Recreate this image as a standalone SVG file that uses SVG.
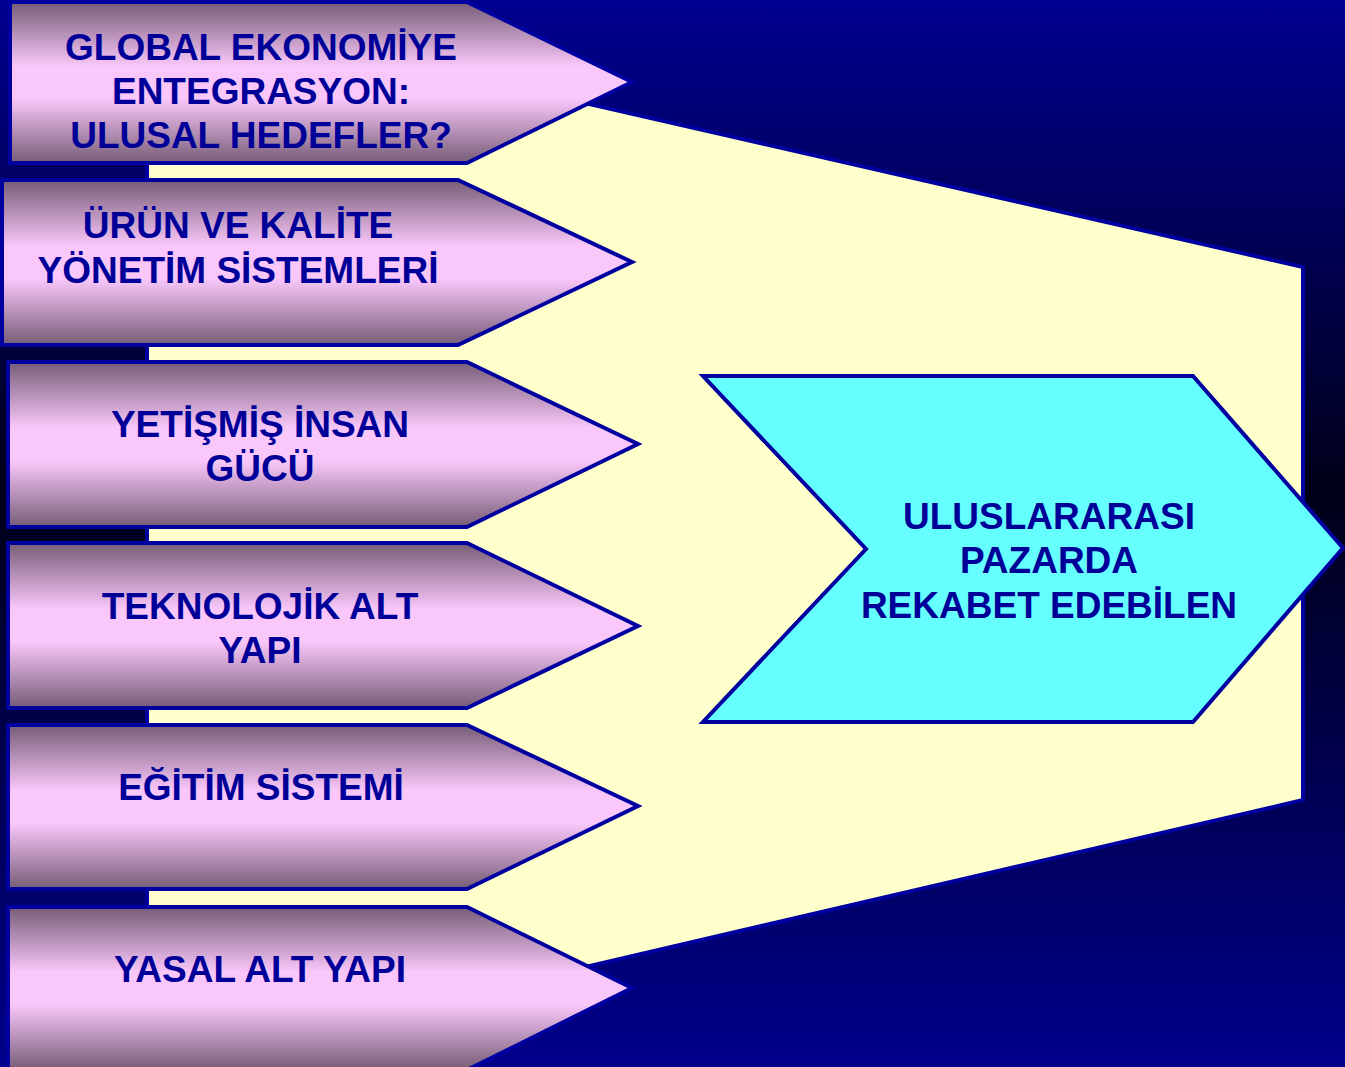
<svg xmlns="http://www.w3.org/2000/svg" width="1345" height="1067" viewBox="0 0 1345 1067">
<defs>
<linearGradient id="bg" x1="0" y1="0" x2="0" y2="1">
<stop offset="0" stop-color="#000090"/>
<stop offset="0.46" stop-color="#000018"/>
<stop offset="1" stop-color="#00008c"/>
</linearGradient>
<linearGradient id="pink" x1="0" y1="0" x2="0" y2="1">
<stop offset="0" stop-color="#765c76"/>
<stop offset="0.4" stop-color="#f9c7fa"/>
<stop offset="0.6" stop-color="#f9c7fa"/>
<stop offset="1" stop-color="#765c76"/>
</linearGradient>
</defs>
<style>
.arrow{fill:url(#pink);stroke:#0000a0;stroke-width:4;stroke-linejoin:miter}
.lbl{font-family:"Liberation Sans",Arial,sans-serif;font-weight:bold;font-size:37px;fill:#000099;text-anchor:middle}
</style>
<rect x="0" y="0" width="1345" height="1067" fill="url(#bg)"/>
<g id="target-panel">
<polygon points="147,3 1303,267 1303,800 147,1069" fill="#ffffcc" stroke="#0000a0" stroke-width="4"/>
</g>
<g id="connectors"></g>
<g id="node1">
<polygon class="arrow" points="10,2 467,2 632,82 467,163 10,163"/>
<text class="lbl" x="261" y="60">GLOBAL EKONOMİYE</text>
<text class="lbl" x="261" y="104">ENTEGRASYON:</text>
<text class="lbl" x="261" y="148">ULUSAL HEDEFLER?</text>
</g>
<g id="node2">
<polygon class="arrow" points="2,180 458,180 632,262 458,345 2,345"/>
<text class="lbl" x="238" y="238">ÜRÜN VE KALİTE</text>
<text class="lbl" x="238" y="283">YÖNETİM SİSTEMLERİ</text>
</g>
<g id="node3">
<polygon class="arrow" points="8,362 467,362 638,444 467,527 8,527"/>
<text class="lbl" x="260" y="437">YETİŞMİŞ İNSAN</text>
<text class="lbl" x="260" y="481">GÜCÜ</text>
</g>
<g id="node4">
<polygon class="arrow" points="8,543 467,543 638,626 467,708 8,708"/>
<text class="lbl" x="260" y="619">TEKNOLOJİK ALT</text>
<text class="lbl" x="260" y="663">YAPI</text>
</g>
<g id="node5">
<polygon class="arrow" points="8,725 467,725 638,806 467,889 8,889"/>
<text class="lbl" x="261" y="800">EĞİTİM SİSTEMİ</text>
</g>
<g id="node6">
<polygon class="arrow" points="8,907 467,907 632,988 467,1070 8,1070"/>
<text class="lbl" x="260" y="982">YASAL ALT YAPI</text>
</g>
<g id="node-target">
<polygon points="703,376 1193,376 1343,548 1193,722 703,722 866,549" fill="#66ffff" stroke="#0000a0" stroke-width="4"/>
<text class="lbl" x="1049" y="529">ULUSLARARASI</text>
<text class="lbl" x="1049" y="573">PAZARDA</text>
<text class="lbl" x="1049" y="618">REKABET EDEBİLEN</text>
</g>
</svg>
